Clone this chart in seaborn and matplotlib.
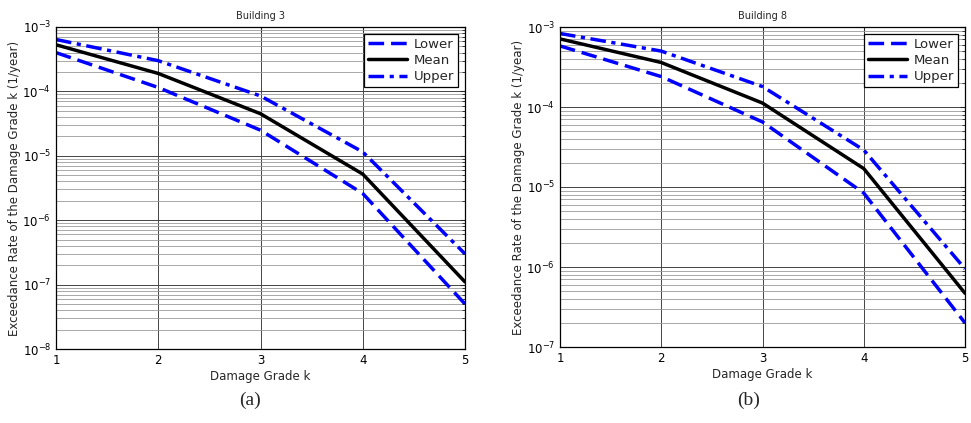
import pandas as pd
import matplotlib.pyplot as plt
import seaborn as sns

grades = [1, 2, 3, 4, 5]

b3_lower = [4.0e-4, 1.15e-4, 2.5e-5, 2.6e-6, 5.0e-8]
b3_mean = [5.3e-4, 1.9e-4, 4.5e-5, 5.2e-6, 1.1e-7]
b3_upper = [6.4e-4, 3.0e-4, 8.5e-5, 1.15e-5, 3.0e-7]

b8_lower = [5.8e-4, 2.4e-4, 6.5e-5, 8.4e-6, 2.0e-7]
b8_mean = [7.1e-4, 3.6e-4, 1.12e-4, 1.7e-5, 4.7e-7]
b8_upper = [8.3e-4, 5.0e-4, 1.8e-4, 2.9e-5, 9.5e-7]

titles = ["Building 3", "Building 8"]
panel_tags = ["(a)", "(b)"]
y_limits = [(1e-8, 1e-3), (1e-7, 1e-3)]

sns.set_style("white")
plt.rcParams["font.family"] = ["DejaVu Sans"]

fig = plt.figure(figsize=(9.71, 4.23), dpi=100)
ax_a = fig.add_axes([56 / 971, 74 / 423, 409 / 971, 322 / 423])
ax_b = fig.add_axes([560 / 971, 76 / 423, 405 / 971, 320 / 423])

panels = [
    (ax_a, b3_lower, b3_mean, b3_upper),
    (ax_b, b8_lower, b8_mean, b8_upper),
]

for i, (ax, lower, mean, upper) in enumerate(panels):
    sns.lineplot(x=grades, y=lower, ax=ax, color="#0000ff", lw=2.5, label="Lower")
    sns.lineplot(x=grades, y=mean, ax=ax, color="black", lw=2.5, label="Mean")
    sns.lineplot(x=grades, y=upper, ax=ax, color="#0000ff", lw=2.5, label="Upper")
    ax.lines[0].set_dashes([4.5, 2])
    ax.lines[2].set_dashes([4.5, 1.6, 1.2, 1.6])

    ax.set_yscale("log")
    ax.set_xlim(1, 5)
    ax.set_ylim(*y_limits[i])
    ax.set_xticks(grades)
    ax.grid(True, which="major", color="#444444", lw=0.7)
    ax.grid(True, which="minor", color="#9a9a9a", lw=0.6)
    ax.tick_params(which="both", direction="in", labelsize=8.5, labelcolor="black",
                   top=True, right=True)
    for sp in ax.spines.values():
        sp.set_visible(True)
        sp.set_color("black")
        sp.set_linewidth(0.9)

    ax.set_title(titles[i], fontsize=7, pad=6)
    ax.set_xlabel("Damage Grade k", fontsize=8.5, labelpad=2)
    ax.set_ylabel("Exceedance Rate of the Damage Grade k (1/year)", fontsize=8.5, labelpad=1)

    leg = ax.legend(loc="upper right", fontsize=9.5, fancybox=False, framealpha=1,
                    edgecolor="black", handlelength=3.0, borderaxespad=0.5,
                    labelspacing=0.25, borderpad=0.3, handletextpad=0.5)
    leg.get_frame().set_linewidth(0.9)

fig.text(250 / 971, 23 / 423, panel_tags[0], ha="center", va="center",
         fontsize=14, family="Liberation Serif")
fig.text(749 / 971, 23 / 423, panel_tags[1], ha="center", va="center",
         fontsize=14, family="Liberation Serif")

fig.savefig("out.png", dpi=100)
